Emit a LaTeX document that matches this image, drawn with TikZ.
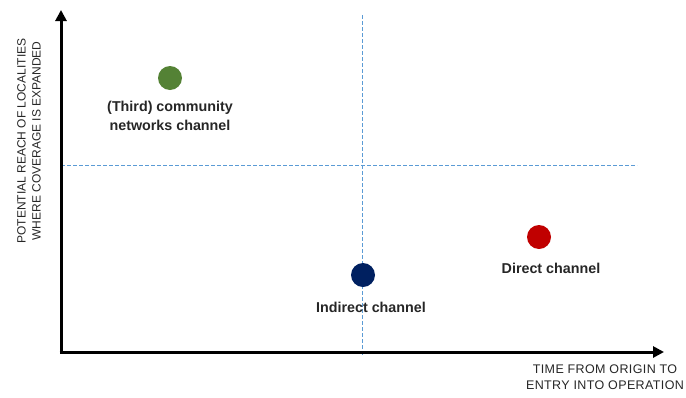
\documentclass[tikz,border=0pt]{standalone}
\usepackage{fontspec}
\setmainfont{Liberation Sans}
\usetikzlibrary{arrows.meta}
\definecolor{dashblue}{HTML}{5B9BD5}
\definecolor{dotgreen}{HTML}{548235}
\definecolor{dotnavy}{HTML}{002060}
\definecolor{dotred}{HTML}{C00000}
\begin{document}
\begin{tikzpicture}[x=1pt,y=-1pt,
  axis/.style={line width=3pt,-{Triangle[length=11pt,width=11pt]}},
  guide/.style={dashblue,line width=0.9pt,dash pattern=on 4pt off 2pt},
  dot/.style={circle,minimum size=24pt,inner sep=0pt},
  lab/.style={font=\fontsize{14.3}{19}\selectfont\bfseries,align=center,text=black!85},
  axlab/.style={font=\fontsize{12}{15}\selectfont,align=center,text=black!85}]
\useasboundingbox (0,0) rectangle (686,397);
\coordinate (o) at (61,352);
\coordinate (ytop) at (61,10);
\coordinate (xend) at (664,352);
\coordinate (hl) at (61,165);
\coordinate (hr) at (637,165);
\coordinate (vt) at (362,15);
\coordinate (vb) at (362,356);
\draw[guide] (hl) -- (hr);
\draw[guide] (vt) -- (vb);
\draw[axis] (o) -- (ytop);
\draw[axis] ([xshift=-1.5pt]o) -- (xend);
\node[dot,fill=dotgreen] (g) at (170,78) {};
\node[dot,fill=dotnavy] (n) at (363,275) {};
\node[dot,fill=dotred] (r) at (539,237) {};
\node[lab] (gl) at (170,116) {(Third) community\\networks channel};
\node[lab] (nl) at (371,307) {Indirect channel};
\node[lab] (rl) at (551,268) {Direct channel};
\node[axlab,rotate=90] (yl) at (29,141) {POTENTIAL REACH OF LOCALITIES\\WHERE COVERAGE IS EXPANDED};
\node[axlab,font=\fontsize{12.5}{16}\selectfont\addfontfeature{LetterSpace=3}] (xl) at (605,377) {TIME FROM ORIGIN TO\\ENTRY INTO OPERATION};
\end{tikzpicture}
\end{document}
